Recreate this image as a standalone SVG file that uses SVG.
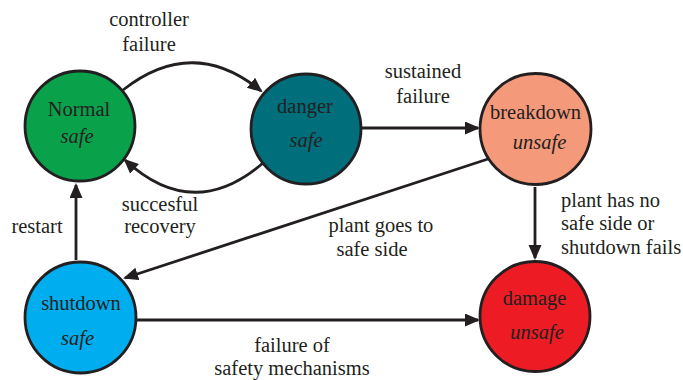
<svg xmlns="http://www.w3.org/2000/svg" width="683" height="380" viewBox="0 0 683 380" font-family="Liberation Serif, serif">
  <style>
    text { font-family: "Liberation Serif", "Times New Roman", serif !important; font-size: 20.5px; fill: #231f20; text-anchor: middle; }
    .it { font-style: italic; }
    .ls { text-anchor: start; }
    .node { stroke: #231f20; stroke-width: 2.8; }
    .edge { fill: none; stroke: #231f20; stroke-width: 2.8; marker-end: url(#arrow); }
  </style>
  <defs>
    <marker id="arrow" markerUnits="userSpaceOnUse" markerWidth="16" markerHeight="14" refX="13" refY="6.5" orient="auto">
      <path d="M0,0 L15,6.5 L0,13 z" fill="#231f20"/>
    </marker>
  </defs>
  <rect width="683" height="380" fill="#ffffff"/>

  <g id="connectors">
    <!-- Normal to danger -->
    <path class="edge" d="M123,90 Q193,35 261,91"/>
    <!-- danger back to Normal -->
    <path class="edge" d="M263,163 Q193,223 125,160"/>
    <!-- danger to breakdown -->
    <path class="edge" d="M361,128 L478,128"/>
    <!-- breakdown to damage -->
    <path class="edge" d="M535,187 L535,258"/>
    <!-- breakdown to shutdown -->
    <path class="edge" d="M488,159 L125,278"/>
    <!-- shutdown to Normal -->
    <path class="edge" d="M76,260 L76,185"/>
    <!-- shutdown to damage -->
    <path class="edge" d="M136,320 L478,320"/>
  </g>

  <g id="edge-labels">
    <text x="149" y="26">controller</text>
    <text x="149" y="51">failure</text>
    <text x="423" y="78">sustained</text>
    <text x="423" y="103">failure</text>
    <text x="160" y="211">succesful</text>
    <text x="160" y="233">recovery</text>
    <text x="37" y="233">restart</text>
    <text x="381" y="232">plant goes to</text>
    <text x="372" y="256">safe side</text>
    <text class="ls" x="561" y="207">plant has no</text>
    <text class="ls" x="561" y="230">safe side or</text>
    <text class="ls" x="561" y="254">shutdown fails</text>
    <text x="292" y="352">failure of</text>
    <text x="292" y="375">safety mechanisms</text>
  </g>

  <g id="normal">
    <circle class="node" cx="80" cy="126" r="55" fill="#0aa14b"/>
    <text x="79" y="116">Normal</text>
    <text class="it" x="77" y="143">safe</text>
  </g>
  <g id="danger">
    <circle class="node" cx="306" cy="129" r="55" fill="#006e7b"/>
    <text x="305" y="113">danger</text>
    <text class="it" x="306" y="147">safe</text>
  </g>
  <g id="breakdown">
    <circle class="node" cx="535.5" cy="129" r="55.5" fill="#f4997a"/>
    <text x="535.5" y="119">breakdown</text>
    <text class="it" x="539.5" y="149">unsafe</text>
  </g>
  <g id="shutdown">
    <circle class="node" cx="80.5" cy="317.5" r="55.5" fill="#00aeef"/>
    <text x="81" y="310">shutdown</text>
    <text class="it" x="77.5" y="345">safe</text>
  </g>
  <g id="damage">
    <circle class="node" cx="535" cy="316.5" r="55" fill="#ed1c24"/>
    <text x="534.5" y="305">damage</text>
    <text class="it" x="537" y="339">unsafe</text>
  </g>
</svg>
